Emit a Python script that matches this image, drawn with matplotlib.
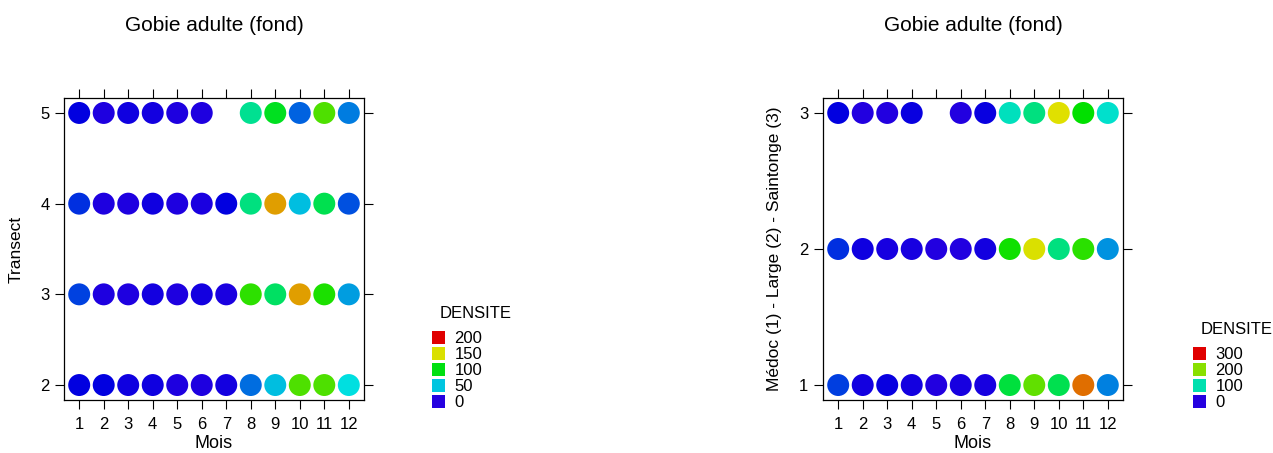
import numpy as np
import matplotlib.pyplot as plt
from matplotlib.colors import ListedColormap, hsv_to_rgb
from matplotlib.patches import Patch

plt.rcParams['font.family'] = ['Liberation Sans', 'DejaVu Sans']

# mois en abscisse
mois = np.arange(1, 13)

# densite par transect (gauche) ; nan = pas de prelevement
transects = [2, 3, 4, 5]
dens_transect = [
    [8, 8, 5, 5, 2, 2, 4, 32, 49, 121, 121, 56],            # transect 2
    [22, 2, 2, 4, 2, 4, 3, 114, 83, 166, 110, 42],         # transect 3
    [18, 2, 2, 5, 2, 3, 8, 77, 166, 49, 87, 25],           # transect 4
    [8, 2, 5, 4, 2, 2, np.nan, 73, 97, 29, 121, 35],       # transect 5
]

# densite par zone (droite) : Medoc (1) - Large (2) - Saintonge (3)
zones = [1, 2, 3]
dens_zone = [
    [32, 7, 10, 7, 2, 5, 5, 136, 187, 131, 264, 53],       # Medoc
    [28, 8, 5, 5, 2, 2, 7, 161, 226, 115, 169, 59],        # Large
    [12, 2, 2, 10, np.nan, 2, 10, 95, 115, 228, 156, 91],  # Saintonge
]

leg_gauche = [200, 150, 100, 50, 0]
leg_droite = [300, 200, 100, 0]

# palette arc-en-ciel bleu -> rouge
teintes = np.linspace(250, 0, 256) / 360.0
palette = ListedColormap([hsv_to_rgb((h, 1.0, 0.88)) for h in teintes])

W, H = 1273, 453
fig = plt.figure(figsize=(W / 100, H / 100), dpi=100)


def panneau(x0, lignes, dens, vmax, ylim, ylabel, legende, leg_pos):
    ax = fig.add_axes([x0 / W, (H - 400) / H, 300 / W, 302 / H])
    for y, vals in zip(lignes, dens):
        vals = np.array(vals, dtype=float)
        ok = ~np.isnan(vals)
        ax.scatter(mois[ok], np.full(ok.sum(), y), c=vals[ok], cmap=palette,
                   vmin=0, vmax=vmax, s=250, linewidths=0, zorder=3)
    ax.set_xlim(0.38, 12.62)
    ax.set_ylim(*ylim)
    ax.set_xticks(mois)
    ax.set_yticks(lignes)
    ax.tick_params(direction='out', length=6.5, width=0.8, top=True,
                   right=True, labelsize=12, colors='black', pad=4)
    ax.tick_params(axis='x', pad=6)
    for s in ax.spines.values():
        s.set_linewidth(0.9)
    ax.set_xlabel('Mois', fontsize=13, labelpad=2)
    ax.set_ylabel(ylabel, fontsize=12.5, labelpad=12)
    ax.set_title('Gobie adulte (fond)', fontsize=15, pad=48)

    # legende : titre a part, cases de couleur en dessous
    lx, ly = leg_pos
    fig.text((lx + 8) / W, 1 - ly / H, 'DENSITE', fontsize=12,
             ha='left', va='center')
    poignees = [Patch(facecolor=palette(v / vmax), edgecolor='none',
                      label=str(v)) for v in legende]
    fig.legend(handles=poignees, loc='upper left',
               bbox_to_anchor=(lx / W, 1 - (ly + 17) / H),
               frameon=False, fontsize=12, handlelength=0.8,
               handleheight=0.8, handletextpad=0.55, labelspacing=0.05,
               borderpad=0, borderaxespad=0)
    return ax


panneau(64, transects, dens_transect, 200, (1.835, 5.165), 'Transect',
        leg_gauche, (432, 314))
panneau(823, zones, dens_zone, 300, (0.89, 3.11),
        'Médoc (1) - Large (2) - Saintonge (3)', leg_droite, (1193, 330))

fig.savefig('out.png', dpi=100)
